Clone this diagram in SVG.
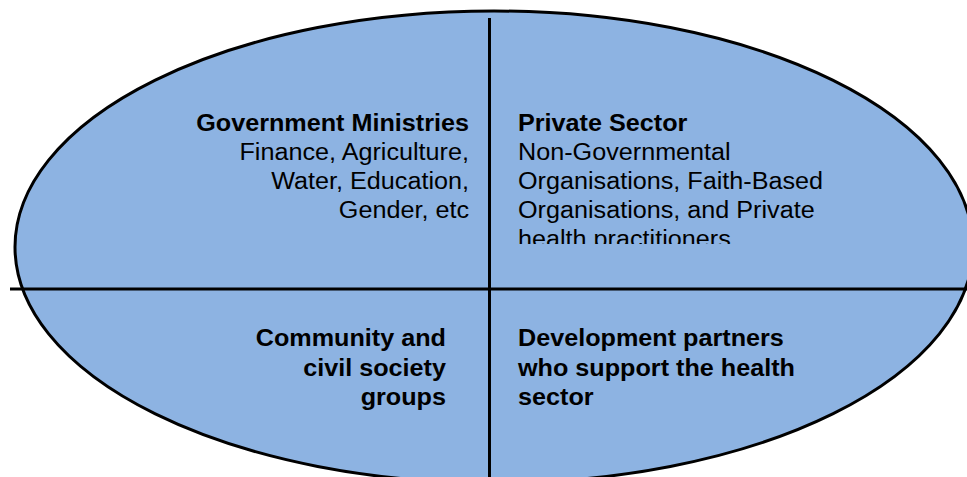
<svg xmlns="http://www.w3.org/2000/svg" width="967" height="477" viewBox="0 0 967 477">
  <defs>
    <style>
      .oval { fill: #8db3e2; stroke: #000; stroke-width: 3; }
      .axis { stroke: #000; stroke-width: 3; fill: none; }
      text { font-family: "Liberation Sans", Arial, sans-serif; font-size: 23px; fill: #000; }
      .b { font-weight: bold; }
      .r { text-anchor: end; }
    </style>
    <clipPath id="clipTR">
      <rect x="495" y="100" width="400" height="144"/>
    </clipPath>
  </defs>

  <!-- oval background -->
  <g id="oval">
    <ellipse class="oval" cx="494" cy="247" rx="479" ry="236"/>
  </g>

  <!-- dividing axes -->
  <g id="connectors">
    <line class="axis" x1="489.5" y1="18" x2="489.5" y2="477"/>
    <line class="axis" x1="10" y1="289" x2="967" y2="289"/>
  </g>

  <!-- quadrant labels, set slightly wide -->
  <g id="government" transform="translate(469 0) scale(1.095 1)">
    <text class="b r" x="0" y="131">Government Ministries</text>
    <text class="r" x="0" y="160">Finance, Agriculture,</text>
    <text class="r" x="0" y="189">Water, Education,</text>
    <text class="r" x="0" y="218">Gender, etc</text>
  </g>

  <g id="private" clip-path="url(#clipTR)">
    <g transform="translate(518 0) scale(1.095 1)">
      <text class="b" x="0" y="131">Private Sector</text>
      <text x="0" y="160">Non-Governmental</text>
      <text x="0" y="189">Organisations, Faith-Based</text>
      <text x="0" y="218">Organisations, and Private</text>
      <text x="0" y="247">health practitioners</text>
    </g>
  </g>

  <g id="community" transform="translate(446 0) scale(1.095 1)">
    <text class="b r" x="0" y="346">Community and</text>
    <text class="b r" x="0" y="376">civil society</text>
    <text class="b r" x="0" y="405">groups</text>
  </g>

  <g id="partners" transform="translate(518 0) scale(1.095 1)">
    <text class="b" x="0" y="346">Development partners</text>
    <text class="b" x="0" y="376">who support the health</text>
    <text class="b" x="0" y="405">sector</text>
  </g>
</svg>
